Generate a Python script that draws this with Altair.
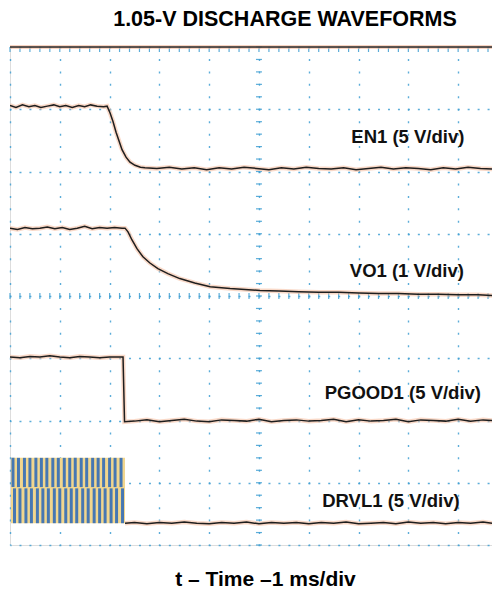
import altair as alt
import numpy as np
import pandas as pd

# ---- data: time in ms (1 ms/div), level in screen divisions (0 = bottom graticule line, 8 = top) ----
en1_t = [0.00, 0.12, 0.25, 0.38, 0.50, 0.62, 0.75, 0.88, 1.00, 1.12, 1.25, 1.38, 1.50, 1.62, 1.75, 1.88,
         1.95, 2.01, 2.07, 2.13, 2.19, 2.25, 2.33, 2.41, 2.51, 2.62, 2.71,
         2.95, 3.20, 3.45, 3.70, 3.95, 4.20, 4.45, 4.70, 4.95, 5.20, 5.45, 5.70, 5.95, 6.20, 6.45,
         6.70, 6.95, 7.20, 7.45, 7.70, 7.95, 8.20, 8.45, 8.70, 8.95, 9.20, 9.45, 9.68]
en1_v = [7.06, 7.03, 7.07, 7.04, 7.06, 7.03, 7.05, 7.07, 7.04, 7.06, 7.03, 7.06, 7.04, 7.07, 7.05, 7.04,
         7.05, 6.94, 6.80, 6.63, 6.49, 6.35, 6.23, 6.15, 6.10, 6.07, 6.06,
         6.05, 6.07, 6.04, 6.06, 6.03, 6.06, 6.04, 6.07, 6.05, 6.03, 6.06, 6.04, 6.07, 6.05, 6.04,
         6.06, 6.03, 6.05, 6.07, 6.04, 6.06, 6.05, 6.03, 6.06, 6.04, 6.07, 6.05, 6.04]

vo1_t = [0.00, 0.15, 0.30, 0.45, 0.60, 0.75, 0.90, 1.05, 1.20, 1.35, 1.50, 1.65, 1.80, 1.95, 2.10, 2.25,
         2.31, 2.37, 2.45, 2.55, 2.67, 2.81, 2.97, 3.17, 3.41, 3.71, 4.02, 4.42, 5.02,
         5.40, 5.80, 6.20, 6.60, 7.00, 7.40, 7.80, 8.20, 8.60, 9.00, 9.40, 9.68]
vo1_v = [5.09, 5.07, 5.10, 5.08, 5.09, 5.11, 5.08, 5.10, 5.07, 5.09, 5.12, 5.08, 5.10, 5.09, 5.10, 5.09,
         5.09, 5.03, 4.90, 4.76, 4.63, 4.53, 4.44, 4.36, 4.28, 4.21, 4.15, 4.12, 4.09,
         4.08, 4.07, 4.06, 4.06, 4.05, 4.04, 4.04, 4.03, 4.03, 4.02, 4.02, 4.01]

pgood_t = [0.00, 0.20, 0.40, 0.60, 0.80, 1.00, 1.20, 1.40, 1.60, 1.80, 2.00, 2.27,
           2.30,
           2.50, 2.75, 3.00, 3.25, 3.50, 3.75, 4.00, 4.25, 4.50, 4.75, 5.00, 5.25, 5.50, 5.75, 6.00,
           6.25, 6.50, 6.75, 7.00, 7.25, 7.50, 7.75, 8.00, 8.25, 8.50, 8.75, 9.00, 9.25, 9.50, 9.68]
pgood_v = [3.02, 3.01, 3.03, 3.02, 3.04, 3.02, 3.01, 3.03, 3.02, 3.01, 3.02, 3.02,
           1.98,
           1.99, 2.01, 1.98, 2.00, 2.02, 1.99, 1.98, 2.01, 2.00, 1.99, 2.02, 1.98, 2.00, 2.01, 1.99,
           2.00, 2.02, 1.98, 2.01, 1.99, 2.00, 2.02, 1.98, 2.01, 2.00, 1.99, 2.02, 1.99, 2.01, 2.00]

drvl_t = [2.31, 2.50, 2.75, 3.00, 3.25, 3.50, 3.75, 4.00, 4.25, 4.50, 4.75, 5.00, 5.25, 5.50, 5.75, 6.00,
          6.25, 6.50, 6.75, 7.00, 7.25, 7.50, 7.75, 8.00, 8.25, 8.50, 8.75, 9.00, 9.25, 9.50, 9.68]
drvl_v = [0.35, 0.36, 0.34, 0.36, 0.35, 0.37, 0.35, 0.34, 0.36, 0.35, 0.37, 0.34, 0.36, 0.35, 0.36, 0.34,
          0.36, 0.35, 0.37, 0.34, 0.35, 0.36, 0.34, 0.37, 0.35, 0.36, 0.34, 0.36, 0.35, 0.37, 0.35]

# DRVL1 switching burst (before turn-off): band limits and stripe starts
burst_t = [0.02, 2.31]
burst_lo, burst_mid, burst_hi = 0.35, 0.92, 1.40
stripe_upper = [0.03, 0.14, 0.26, 0.37, 0.49, 0.60, 0.71, 0.83, 0.94, 1.06,
                1.17, 1.28, 1.40, 1.51, 1.63, 1.74, 1.85, 1.97, 2.08, 2.20]
stripe_lower = [0.06, 0.17, 0.29, 0.40, 0.52, 0.63, 0.74, 0.86, 0.97, 1.09,
                1.20, 1.31, 1.43, 1.54, 1.66, 1.77, 1.88, 2.00, 2.11, 2.23]

label_text = ["EN1 (5 V/div)", "VO1 (1 V/div)", "PGOOD1 (5 V/div)", "DRVL1 (5 V/div)"]
label_t = [7.99, 7.97, 7.89, 7.65]
label_v = [6.46, 4.31, 2.35, 0.61]

X_DOMAIN = [0, 9.68]
Y_DOMAIN = [0, 8]

# ---- build tables ----
traces = pd.concat([
    pd.DataFrame({"t": en1_t, "v": en1_v, "trace": "EN1"}),
    pd.DataFrame({"t": vo1_t, "v": vo1_v, "trace": "VO1"}),
    pd.DataFrame({"t": pgood_t, "v": pgood_v, "trace": "PGOOD1"}),
    pd.DataFrame({"t": drvl_t, "v": drvl_v, "trace": "DRVL1"}),
], ignore_index=True)

SW = 0.06
stripes = pd.concat([
    pd.DataFrame({"t": stripe_upper, "t2": [s + SW for s in stripe_upper], "v": burst_mid + 0.01, "v2": burst_hi}),
    pd.DataFrame({"t": stripe_lower, "t2": [s + SW for s in stripe_lower], "v": burst_lo, "v2": burst_mid - 0.01}),
], ignore_index=True)
band = pd.DataFrame({"t": [burst_t[0]], "t2": [burst_t[1]], "v": [burst_lo], "v2": [burst_hi]})
labels = pd.DataFrame({"text": label_text, "t": label_t, "v": label_v})

# graticule helpers (minor ticks every 0.2 div)
minor_x = pd.DataFrame({"t": np.round(np.arange(0, X_DOMAIN[1] + 0.001, 0.2), 2)})
minor_y = pd.DataFrame({"v": np.round(np.arange(0, 8.001, 0.2), 2)})
top_border = pd.DataFrame({"t": [0.0], "t2": [X_DOMAIN[1]], "v": [8.0]})

xs = alt.Scale(domain=X_DOMAIN, nice=False, zero=False)
ys = alt.Scale(domain=Y_DOMAIN, nice=False, zero=False)

GRID = "#3f9fd2"
FONT = "Liberation Sans"
XTITLE = "t – Time –1 ms/div"

X_AXIS = alt.Axis(values=list(range(0, 10)), grid=True, labels=False, ticks=False, domain=False,
                  gridColor=GRID, gridDash=[2, 10.45], gridDashOffset=1, gridWidth=1.4, gridOpacity=0.85,
                  titleFont=FONT, titleFontSize=21, titleFontWeight="bold",
                  titleColor="black", titleX=255, titleY=40, titleBaseline="alphabetic")
Y_AXIS = alt.Axis(values=list(range(0, 9)), grid=True, labels=False, ticks=False, domain=False,
                  gridColor=GRID, gridDash=[2, 7.96], gridDashOffset=1, gridWidth=1.4, gridOpacity=0.85)


def X(field=None, datum=None):
    if datum is not None:
        return alt.X(datum=datum, scale=xs, axis=X_AXIS, title=XTITLE)
    return alt.X(field, scale=xs, axis=X_AXIS, title=XTITLE)


def Y(field=None, datum=None):
    if datum is not None:
        return alt.Y(datum=datum, scale=ys, axis=Y_AXIS, title=None)
    return alt.Y(field, scale=ys, axis=Y_AXIS, title=None)


center_h_ticks = alt.Chart(minor_x).mark_tick(orient="vertical", color=GRID, size=6, thickness=1.2, opacity=0.85).encode(
    x=X("t:Q"), y=Y(datum=4),
)
top_ticks = alt.Chart(minor_x).mark_tick(orient="vertical", color=GRID, size=5, thickness=1.2, opacity=0.85).encode(
    x=X("t:Q"), y=Y(datum=7.96),
)
center_v_ticks = alt.Chart(minor_y).mark_tick(orient="horizontal", color=GRID, size=6, thickness=1.2, opacity=0.85).encode(
    x=X(datum=5), y=Y("v:Q"),
)
border_halo = alt.Chart(top_border).mark_rule(color="#f3b79a", strokeWidth=4, opacity=0.6).encode(
    x=X("t:Q"), x2="t2:Q", y=Y("v:Q"),
)
border = alt.Chart(top_border).mark_rule(color="#2a2a2a", strokeWidth=1.6).encode(
    x=X("t:Q"), x2="t2:Q", y=Y("v:Q"),
)

band_layer = alt.Chart(band).mark_rect(color="#f1d68e").encode(
    x=X("t:Q"), x2="t2:Q", y=Y("v:Q"), y2="v2:Q",
)
stripe_layer = alt.Chart(stripes).mark_rect(color="#4677b3").encode(
    x=X("t:Q"), x2="t2:Q", y=Y("v:Q"), y2="v2:Q",
)

halo = alt.Chart(traces).mark_line(color="#f4b99a", strokeWidth=4.5, opacity=0.55, clip=True).encode(
    x=X("t:Q"), y=Y("v:Q"), detail="trace:N",
)
lines = alt.Chart(traces).mark_line(color="#1e1e1e", strokeWidth=1.5, clip=True).encode(
    x=X("t:Q"), y=Y("v:Q"), detail="trace:N",
)
text_layer = alt.Chart(labels).mark_text(font=FONT, fontSize=18.5, fontWeight="bold", color="#111111",
                                          align="center", baseline="alphabetic").encode(
    x=X("t:Q"), y=Y("v:Q"), text="text:N",
)

chart = alt.layer(
    center_h_ticks, top_ticks, center_v_ticks, band_layer, stripe_layer,
    border_halo, border, halo, lines, text_layer,
).properties(
    width=482, height=498,
    padding={"left": 2, "top": 39, "right": 0, "bottom": 46},
    autosize=alt.AutoSizeParams(type="none"),
    title=alt.TitleParams("1.05-V DISCHARGE WAVEFORMS", font=FONT, fontSize=21.5, fontWeight="bold",
                          color="black", anchor="middle", dx=34, offset=15),
).configure_view(stroke=None).configure(background="white")

chart.save("out.html", embed_options={"renderer": "svg", "actions": False})
